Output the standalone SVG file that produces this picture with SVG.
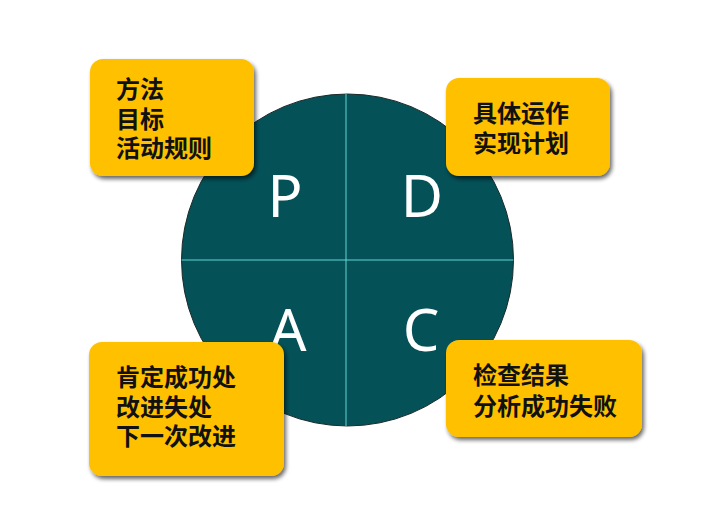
<svg xmlns="http://www.w3.org/2000/svg" width="701" height="514" viewBox="0 0 701 514">
<defs>
<filter id="sh" x="-10%" y="-10%" width="125%" height="130%">
<feGaussianBlur in="SourceAlpha" stdDeviation="2"/>
<feOffset dx="2" dy="3" result="b"/>
<feComponentTransfer><feFuncA type="linear" slope="0.6"/></feComponentTransfer>
<feMerge><feMergeNode/><feMergeNode in="SourceGraphic"/></feMerge>
</filter>
<style>
.box{fill:#FFC000;filter:url(#sh);}
.t{font-family:"Liberation Sans","Noto Sans CJK SC",sans-serif;font-size:24px;font-weight:bold;fill:#111;}
.L{font-family:"Noto Sans","Open Sans",sans-serif;font-size:58px;fill:#fff;text-anchor:middle;}
.ax{stroke:#5ED6D6;stroke-width:1;}
</style>
</defs>
<rect width="701" height="514" fill="#fff"/>
<g id="circle">
<circle cx="347.5" cy="260" r="166" fill="#045157" stroke="#1a2a2a" stroke-width="1"/>
<line class="ax" x1="346" y1="94" x2="346" y2="426"/>
<line class="ax" x1="181.5" y1="260" x2="513.5" y2="260"/>
<text class="L" x="285" y="217">P</text>
<text class="L" x="422" y="217">D</text>
<text class="L" x="288" y="351">A</text>
<text class="L" x="421" y="351">C</text>
</g>
<g id="box-p">
<rect class="box" x="90" y="59" width="164" height="117" rx="13"/>
<text class="t" x="116" y="98">方法</text>
<text class="t" x="116" y="127.5">目标</text>
<text class="t" x="116" y="157">活动规则</text>
</g>
<g id="box-d">
<rect class="box" x="446" y="78" width="164" height="98" rx="13"/>
<text class="t" x="473" y="122">具体运作</text>
<text class="t" x="473" y="152">实现计划</text>
</g>
<g id="box-a">
<rect class="box" x="89" y="342" width="195" height="134" rx="13"/>
<text class="t" x="116" y="386">肯定成功处</text>
<text class="t" x="116" y="415.5">改进失处</text>
<text class="t" x="116" y="445">下一次改进</text>
</g>
<g id="box-c">
<rect class="box" x="446" y="340" width="196" height="97" rx="13"/>
<text class="t" x="473" y="384">检查结果</text>
<text class="t" x="473" y="415">分析成功失败</text>
</g>
<g id="connectors"></g>
</svg>
